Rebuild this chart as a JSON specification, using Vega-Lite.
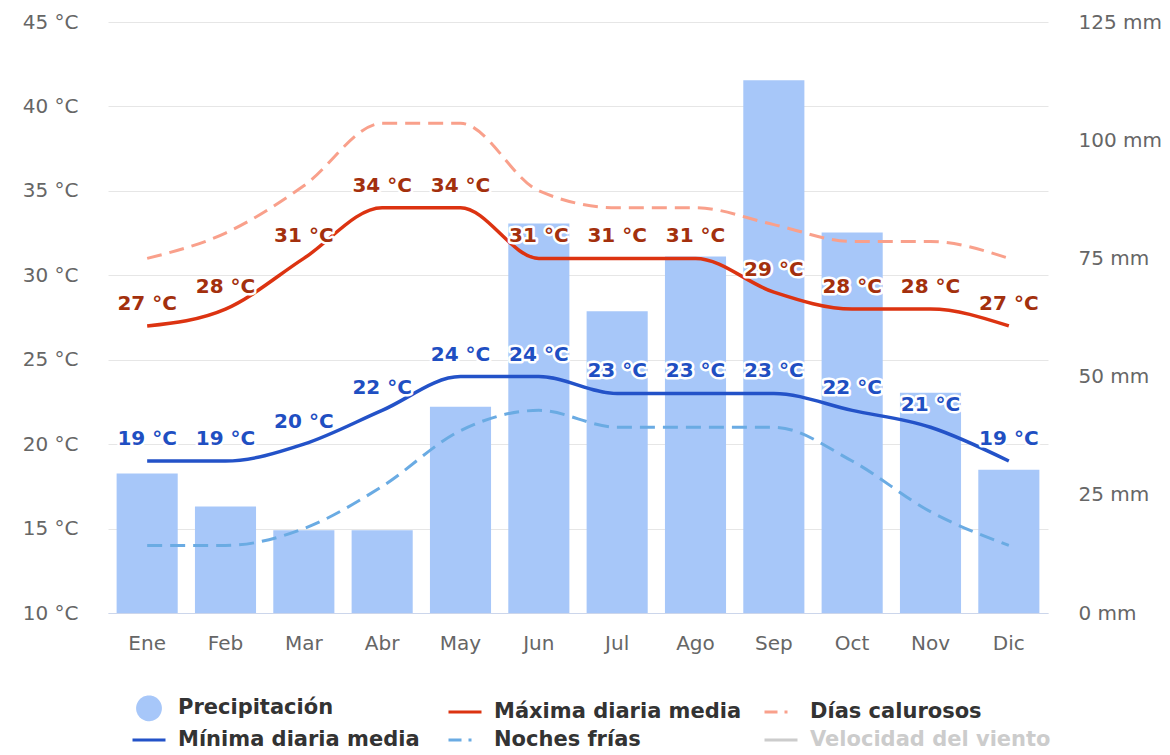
{
  "$schema": "https://vega.github.io/schema/vega-lite/v6.json",
  "width": 940,
  "height": 591,
  "autosize": "none",
  "padding": {"left": 108, "top": 22, "right": 122, "bottom": 142},
  "background": "white",
  "config": {
    "font": "DejaVu Sans",
    "view": {"stroke": null},
    "axis": {"labelFont": "DejaVu Sans", "labelFontSize": 20, "labelColor": "#666666", "title": null, "ticks": false, "domain": false}
  },
  "data": {
    "values": [
      {"mes": "Ene", "prec": 29.5, "max": 27, "min": 19, "calor": 31, "frio": 14},
      {"mes": "Feb", "prec": 22.5, "max": 28, "min": 19, "calor": 32.5, "frio": 14},
      {"mes": "Mar", "prec": 17.5, "max": 31, "min": 20, "calor": 35.3, "frio": 15},
      {"mes": "Abr", "prec": 17.5, "max": 34, "min": 22, "calor": 39, "frio": 17.5},
      {"mes": "May", "prec": 43.6, "max": 34, "min": 24, "calor": 39, "frio": 20.8},
      {"mes": "Jun", "prec": 82.4, "max": 31, "min": 24, "calor": 35, "frio": 22},
      {"mes": "Jul", "prec": 63.8, "max": 31, "min": 23, "calor": 34, "frio": 21},
      {"mes": "Ago", "prec": 75.4, "max": 31, "min": 23, "calor": 34, "frio": 21},
      {"mes": "Sep", "prec": 112.7, "max": 29, "min": 23, "calor": 33, "frio": 21},
      {"mes": "Oct", "prec": 80.5, "max": 28, "min": 22, "calor": 32, "frio": 19},
      {"mes": "Nov", "prec": 46.6, "max": 28, "min": 21, "calor": 32, "frio": 16},
      {"mes": "Dic", "prec": 30.3, "max": 27, "min": 19, "calor": 31, "frio": 14}
    ]
  },
  "encoding": {
    "x": {
      "field": "mes", "type": "nominal", "sort": null,
      "scale": {"paddingInner": 0.22, "paddingOuter": 0.11},
      "axis": {"labelAngle": 0, "labelPadding": 20, "domain": true, "domainColor": "#ccd6eb", "domainWidth": 1}
    }
  },
  "layer": [
    {
      "mark": {"type": "bar"},
      "encoding": {
        "y": {
          "field": "prec", "type": "quantitative",
          "scale": {"domain": [0, 125], "nice": false},
          "axis": {"orient": "right", "values": [0, 25, 50, 75, 100, 125], "labelExpr": "datum.value + ' mm'", "grid": false, "labelPadding": 30}
        },
        "color": {
          "datum": "Precipitación", "type": "nominal",
          "scale": {
            "domain": ["Precipitación", "Mínima diaria media", "Máxima diaria media", "Noches frías", "Días calurosos", "Velocidad del viento"],
            "range": ["#a7c7f9", "#2352c8", "#dc3311", "#6aabe3", "#f9a08b", "#cccccc"]
          },
          "legend": {
            "title": null,
            "orient": "none",
            "legendX": 27,
            "legendY": 672,
            "columns": 3,
            "gridAlign": "all",
            "columnPadding": 16,
            "rowPadding": 0,
            "labelFont": "DejaVu Sans",
            "labelFontSize": 21,
            "labelFontWeight": "bold",
            "labelColor": "#333333",
            "labelOffset": 15,
            "labelLimit": 400,
            "symbolSize": 625,
            "symbolType": "M-1,0H1",
            "symbolStrokeWidth": 3,
            "encode": {
              "symbols": {
                "update": {
                  "shape": {"signal": "datum.value === 'Precipitación' ? 'circle' : 'M-1.32,0H1.32'"},
                  "size": {"signal": "datum.value === 'Precipitación' ? 520 : 625"},
                  "fill": {"signal": "datum.value === 'Precipitación' ? '#a7c7f9' : 'transparent'"},
                  "stroke": {"signal": "datum.value === 'Precipitación' ? 'transparent' : scale('color', datum.value)"},
                  "strokeWidth": {"value": 3},
                  "strokeDash": {"signal": "(datum.value === 'Días calurosos' || datum.value === 'Noches frías') ? [13, 7, 3, 10] : [1, 0]"},
                  "opacity": {"value": 1}
                }
              },
              "labels": {
                "update": {
                  "fill": {"signal": "datum.value === 'Velocidad del viento' ? '#cccccc' : '#333333'"}
                }
              }
            }
          }
        }
      }
    },
    {
      "encoding": {
        "y": {
          "type": "quantitative",
          "scale": {"domain": [10, 45], "nice": false}
        }
      },
      "layer": [
        {
          "mark": {"type": "line", "interpolate": "monotone", "strokeWidth": 3, "strokeDash": [15, 8]},
          "encoding": {
            "y": {"field": "calor", "type": "quantitative", "axis": {"orient": "left", "values": [10, 15, 20, 25, 30, 35, 40, 45], "labelExpr": "datum.value + ' °C'", "grid": true, "gridColor": "#e6e6e6", "labelPadding": 30}},
            "color": {"datum": "Días calurosos", "type": "nominal"}
          }
        },
        {
          "mark": {"type": "line", "interpolate": "monotone", "strokeWidth": 3, "strokeDash": [15, 8]},
          "encoding": {
            "y": {"field": "frio", "type": "quantitative"},
            "color": {"datum": "Noches frías", "type": "nominal"}
          }
        },
        {
          "mark": {"type": "line", "interpolate": "monotone", "strokeWidth": 3.5},
          "encoding": {
            "y": {"field": "max", "type": "quantitative"},
            "color": {"datum": "Máxima diaria media", "type": "nominal"}
          }
        },
        {
          "mark": {"type": "line", "interpolate": "monotone", "strokeWidth": 3.5},
          "encoding": {
            "y": {"field": "min", "type": "quantitative"},
            "color": {"datum": "Mínima diaria media", "type": "nominal"}
          }
        },
        {
          "mark": {"type": "text", "fontSize": 20, "fontWeight": "bold", "dy": -16, "baseline": "alphabetic", "stroke": "white", "strokeWidth": 5, "strokeJoin": "round", "fill": "white"},
          "encoding": {"y": {"field": "max", "type": "quantitative"}, "text": {"value": {"expr": "datum.max + ' °C'"}}}
        },
        {
          "mark": {"type": "text", "fontSize": 20, "fontWeight": "bold", "dy": -16, "baseline": "alphabetic", "fill": "#a3300d"},
          "encoding": {"y": {"field": "max", "type": "quantitative"}, "text": {"value": {"expr": "datum.max + ' °C'"}}}
        },
        {
          "mark": {"type": "text", "fontSize": 20, "fontWeight": "bold", "dy": -16, "baseline": "alphabetic", "stroke": "white", "strokeWidth": 5, "strokeJoin": "round", "fill": "white"},
          "encoding": {"y": {"field": "min", "type": "quantitative"}, "text": {"value": {"expr": "datum.min + ' °C'"}}}
        },
        {
          "mark": {"type": "text", "fontSize": 20, "fontWeight": "bold", "dy": -16, "baseline": "alphabetic", "fill": "#1f4fc2"},
          "encoding": {"y": {"field": "min", "type": "quantitative"}, "text": {"value": {"expr": "datum.min + ' °C'"}}}
        }
      ]
    }
  ],
  "resolve": {"scale": {"y": "independent"}}
}
